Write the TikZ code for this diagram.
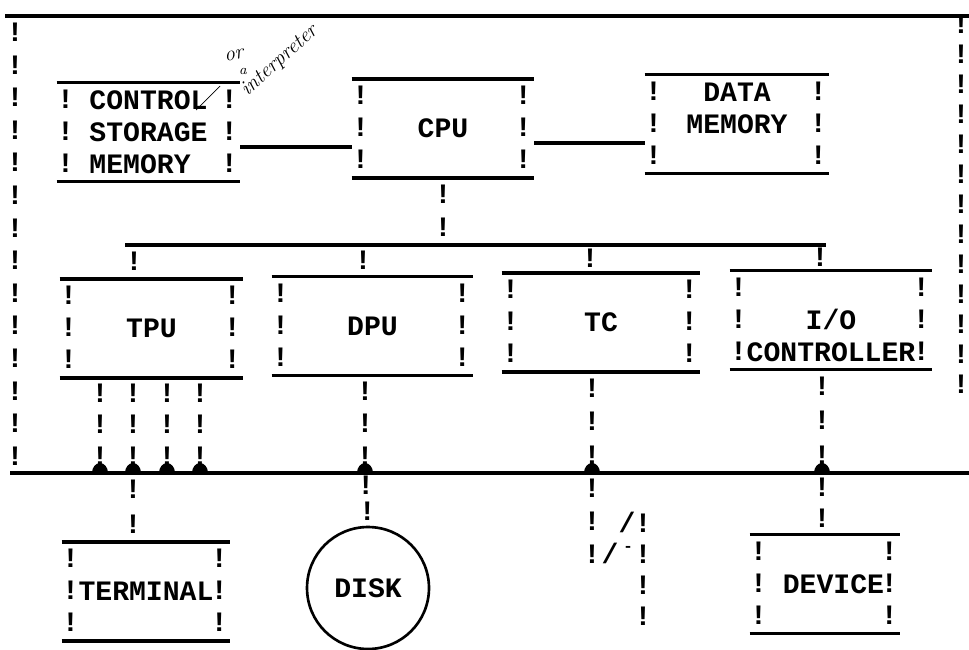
\documentclass[tikz,border=0pt]{standalone}
\usepackage{fontspec}
\setmonofont{Liberation Mono}
\usepackage{tikz}
\usetikzlibrary{calc}

% typed "!" marks between two points
\newcommand{\bangrun}[3]{%
  \foreach \i in {1,...,#3}
    \node[bang] at ($(#1)!{(\i-0.5)/#3}!(#2)$) {!};
}
% top and bottom rules plus typed sides
\newcommand{\bangsides}[1]{%
  \draw[rule] (#1.north west) -- (#1.north east);
  \draw[rule] (#1.south west) -- (#1.south east);
  \foreach \dy in {-32,0,32} {
    \node[bang] at ($(#1.west)+(9,\dy)$) {!};
    \node[bang] at ($(#1.east)+(-11,\dy)$) {!};
  }
}
\newcommand{\blob}[1]{%
  \fill ([xshift=-0.16cm]#1) arc[start angle=180,end angle=0,x radius=0.16cm,y radius=0.2cm];
}

\begin{document}
\begin{tikzpicture}[x=0.02cm,y=-0.02cm,
    rule/.style={line width=1.9pt},
    bang/.style={font=\ttfamily\bfseries\fontsize{16}{18}\selectfont,inner sep=0pt,text height=9.6pt,text depth=0pt},
    tbox/.style={font=\ttfamily\bfseries\fontsize{16}{18.2}\selectfont,align=center,inner sep=0pt,minimum height=1.96cm},
    note/.style={font=\itshape\fontsize{12}{12}\selectfont,inner sep=0pt}]
  \useasboundingbox (0,0) rectangle (969,649);
  \fill[white] (0,0) rectangle (969,649);

  % frame
  \draw[rule] (5,16) -- (969,16);
  \foreach \i in {0,...,13}
    \node[bang] at (15,{33+32.6*\i}) {!};
  \foreach \i in {0,...,12}
    \node[bang] at (961,{25+30*\i}) {!};

  % top row
  \node[tbox,minimum width=3.66cm,align=left] (csm) at (148.5,132) {CONTROL\\STORAGE\\MEMORY};
  \node[tbox,minimum width=3.64cm] (cpu) at (443,128.5) {CPU};
  \node[tbox,minimum width=3.68cm] (dmem) at (737,124) {DATA\\MEMORY\\\phantom{X}};
  \bangsides{csm}
  \bangsides{cpu}
  \bangsides{dmem}
  \draw[rule] ([yshift=-0.3cm]csm.east) -- ([yshift=-0.3cm]csm.east -| cpu.west);
  \draw[rule] ([yshift=-0.29cm]cpu.east) -- ([yshift=-0.29cm]cpu.east -| dmem.west);
  \draw[thin] (196,110) -- (220,86);
  \node[note,rotate=10] (or) at (234,55) {or};
  \node[note,font=\itshape\fontsize{8}{8}\selectfont] (a) at (243,71) {a};
  \node[note,rotate=42,anchor=south west] (interp) at (250,100) {interpreter};

  % second row
  \coordinate (br-l) at (125,245);
  \coordinate (br-r) at (826,245);
  \draw[rule] (br-l) -- (br-r);
  \bangrun{cpu.south}{cpu.south |- br-l}{2}
  \node[tbox,minimum width=3.66cm] (tpu) at (151.5,328.5) {TPU};
  \node[tbox,minimum width=4.02cm] (dpu) at (372.5,326) {DPU};
  \node[tbox,minimum width=3.96cm] (tc) at (601,322.5) {TC};
  \node[tbox,minimum width=4.04cm] (ioc) at (831,320) {\phantom{X}\\I/O\\CONTROLLER};
  \foreach \b in {tpu,dpu,tc,ioc}
    \bangsides{\b}
  \coordinate (d1) at (134,245);
  \coordinate (d2) at (363,245);
  \coordinate (d3) at (590,245);
  \coordinate (d4) at (820,245);
  \bangrun{d1}{tpu.north -| d1}{1}
  \bangrun{d2}{dpu.north -| d2}{1}
  \bangrun{d3}{tc.north -| d3}{1}
  \bangrun{d4}{ioc.north -| d4}{1}

  % bus
  \coordinate (bus-l) at (10,473);
  \coordinate (bus-r) at (969,473);
  \draw[rule] (bus-l) -- (bus-r);
  \coordinate (t1) at (100,473);
  \coordinate (t2) at (133,473);
  \coordinate (t3) at (167,473);
  \coordinate (t4) at (200,473);
  \coordinate (tD) at (365,473);
  \coordinate (tC) at (592,473);
  \coordinate (tI) at (822,473);
  \foreach \t in {t1,t2,t3,t4} {
    \bangrun{tpu.south -| \t}{\t}{3}
    \blob{\t}
  }
  \bangrun{dpu.south -| tD}{tD}{3}
  \bangrun{tc.south -| tC}{tC}{3}
  \bangrun{ioc.south -| tI}{tI}{3}
  \blob{tD}
  \blob{tC}
  \blob{tI}

  % bottom row
  \node[tbox,minimum width=3.36cm] (term) at (146,591.5) {TERMINAL};
  \node[tbox,draw,circle,line width=1.5pt,minimum size=2.44cm] (disk) at (368,588) {DISK};
  \node[tbox,minimum width=3cm] (dev) at (825,584) {\hphantom{D}DEVICE};
  \bangsides{term}
  \bangsides{dev}
  \bangrun{t2}{term.north -| t2}{2}
  \bangrun{tD}{disk.north}{2}
  \bangrun{tI}{dev.north -| tI}{2}

  % line from TC
  \coordinate (tc-end) at (592,572);
  \coordinate (sw-top) at (643,509);
  \coordinate (sw-end) at (643,633);
  \bangrun{tC}{tc-end}{3}
  \bangrun{sw-top}{sw-end}{4}
  \node[bang] (sl1) at (627,524) {/};
  \node[bang] (sl2) at (610,555) {/};
  \node[bang,font=\ttfamily\bfseries\fontsize{9}{9}\selectfont] (tick) at (628,543) {-};
\end{tikzpicture}
\end{document}
